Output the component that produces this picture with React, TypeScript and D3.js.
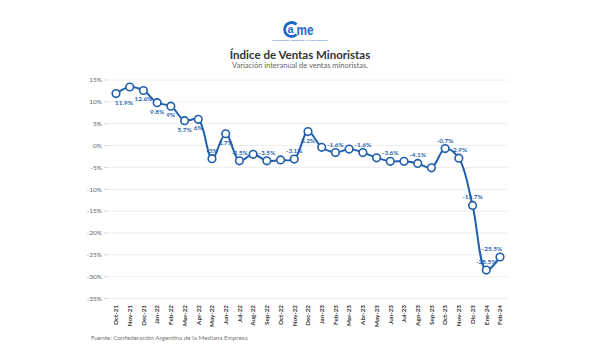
import React from "react";
import * as d3 from "d3";

const months = ["Oct-21","Nov-21","Dec-21","Jan-22","Feb-22","Mar-22","Apr-22","May-22","Jun-22","Jul-22","Aug-22","Sep-22","Oct-22","Nov-22","Dec-22","Jan-23","Feb-23","Mar-23","Abr-23","May-23","Jun-23","Jul-23","Ago-23","Sep-23","Oct-23","Nov-23","Dic-23","Ene-24","Feb-24"];
const values = [11.9,13.4,12.6,9.8,9.0,5.7,6.0,-3.0,2.7,-3.5,-2.0,-3.5,-3.3,-3.1,3.2,-0.4,-1.6,-0.8,-1.6,-2.8,-3.6,-3.6,-4.1,-5.1,-0.7,-2.9,-13.7,-28.5,-25.5];
const labels = ["11.9%","","12.6%","9.8%","9%","5.7%","6%","-3%","2.7%","-3.5%","","-3.5%","","-3.1%","3.2%","","-1.6%","","-1.6%","","-3.6%","","-4.1%","","-0.7%","-2.9%","-13.7%","-28.5%","-25.5%"];
const yTicks = [15,10,5,0,-5,-10,-15,-20,-25,-30,-35];

const W = 600, H = 360;
const BLUE = "#1f5fad";
const LOGO = "#1d68c8";

export default function App() {
  const x = d3.scalePoint<string>().domain(months).range([116, 500]);
  const y = d3.scaleLinear().domain([-35, 15]).range([298.5, 80]);
  const line = d3.line<number>()
    .x((_, i) => x(months[i]) as number)
    .y((d) => y(d))
    .curve(d3.curveCatmullRom.alpha(0.5));

  return (
    <svg width={W} height={H} style={{ position: "absolute", left: 0, top: 0, background: "#fff" }} fontFamily="Lato, 'Open Sans', sans-serif">
      <rect x={0} y={0} width={W} height={H} fill="#fff" />
      {/* logo */}
      <g>
        <path d="M 296.5 24.5 A 7 7 0 1 0 296.5 34.5" fill="none" stroke={LOGO} strokeWidth={2.8} />
        <text x={290.6} y={33.2} textAnchor="middle" fontSize={11} fontWeight={900} fill={LOGO} fontFamily="'Liberation Sans', Arial, sans-serif">a</text>
        <text x={296.5} y={34.5} fontSize={14} fontWeight={900} fill={LOGO} fontFamily="'Liberation Sans', Arial, sans-serif" textLength={17} lengthAdjust="spacingAndGlyphs">me</text>
        <text x={300} y={41} textAnchor="middle" fontSize={2.6} fill={LOGO}>Confederación Argentina de la Mediana Empresa</text>
      </g>
      <text x={300} y={59} textAnchor="middle" fontSize={11.5} fontWeight={700} fill="#333">Índice de Ventas Minoristas</text>
      <text x={300} y={68} textAnchor="middle" fontSize={7.5} fill="#666">Variación interanual de ventas minoristas.</text>

      {/* grid & y axis */}
      {yTicks.map((t) => (
        <g key={t}>
          <line x1={108} x2={508} y1={y(t)} y2={y(t)} stroke="#eeeeee" strokeWidth={1} />
          <line x1={104} x2={108} y1={y(t)} y2={y(t)} stroke="#bbb" strokeWidth={0.6} />
          <text x={102} y={y(t) + 2.3} textAnchor="end" fontSize={6.5} fill="#666">{t}%</text>
        </g>
      ))}

      {/* x axis labels */}
      {months.map((m) => (
        <text key={m} transform={`translate(${(x(m) as number) + 2.3},305) rotate(-90)`} textAnchor="end" fontSize={6.3} fontWeight={700} fill="#333">{m}</text>
      ))}

      {/* line */}
      <path d={line(values) || ""} fill="none" stroke={BLUE} strokeWidth={2} />
      {values.map((v, i) => (
        <circle key={i} cx={x(months[i]) as number} cy={y(v)} r={3.8} fill="#fff" stroke={BLUE} strokeWidth={1.6} />
      ))}
      {values.map((v, i) => labels[i] ? (
        <text key={"l" + i} x={(x(months[i]) as number) + (i === 0 ? 8 : i === 28 ? -8 : 0)} y={v >= 0 ? y(v) + 11 : y(v) - 6} textAnchor="middle" fontSize={6.4} fontWeight={700} fill={BLUE}>{labels[i]}</text>
      ) : null)}

      <text x={91} y={340} fontSize={6.3} fill="#777">Fuente: Confederación Argentina de la Mediana Empresa</text>
    </svg>
  );
}
